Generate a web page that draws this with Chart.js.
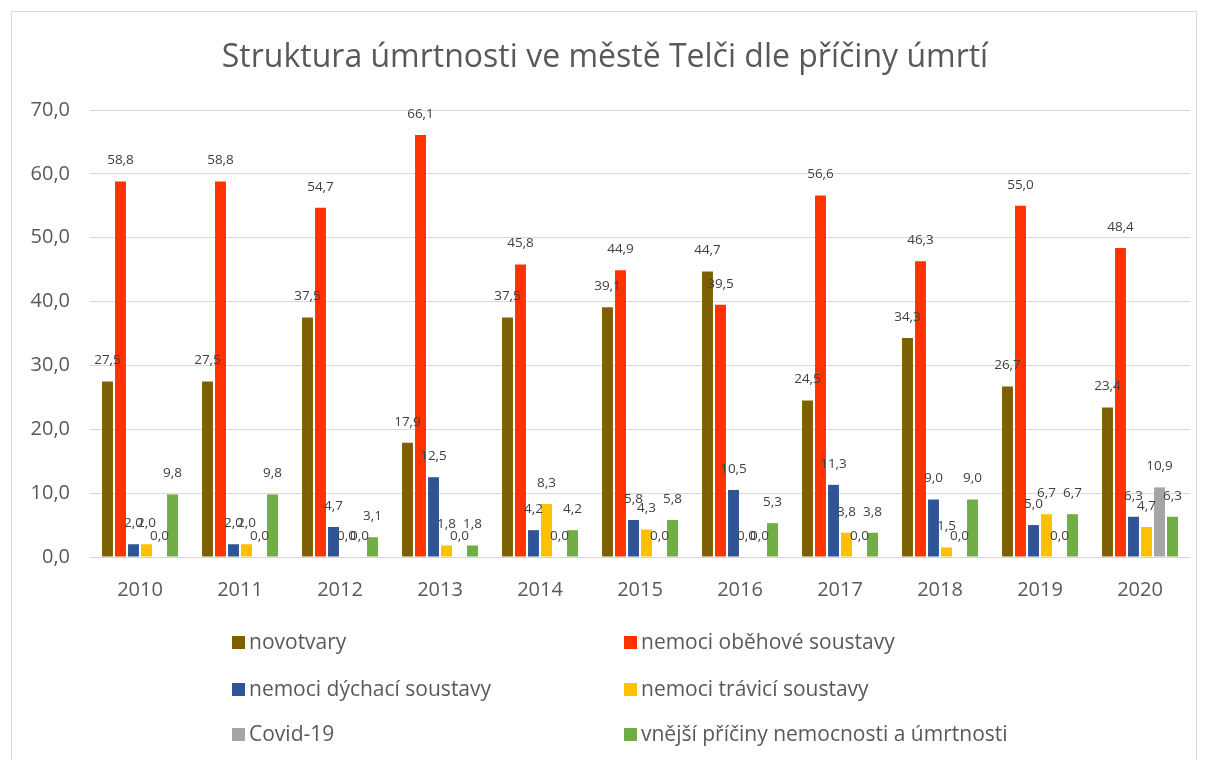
<!DOCTYPE html>
<html>
<head>
<meta charset="utf-8">
<script src="https://cdn.jsdelivr.net/npm/chart.js@4/dist/chart.umd.min.js"></script>
<style>
    html, body { margin: 0; padding: 0; background: #fff; }
    #frame {
        position: absolute; left: 11px; top: 11px; width: 1186px; height: 760px;
        border: 1px solid #d9d9d9; border-bottom: none; box-sizing: border-box;
    }
    #wrap { position: absolute; left: 0; top: 0; width: 1205px; height: 610px; }
    #legend { position: absolute; left: 0; top: 0; width: 1205px; height: 760px; pointer-events: none; }
    .item {
        position: absolute; font-family: "Open Sans", sans-serif; font-size: 21px; color: #595959;
        white-space: nowrap; line-height: 24px;
    }
    .item span.box { display: inline-block; width: 13px; height: 13px; margin-right: 4px; vertical-align: 0px; }
</style>
</head>
<body>
<div id="frame"></div>
<div id="wrap"><canvas id="chart"></canvas></div>
<div id="legend"></div>
<script>
const years = ['2010', '2011', '2012', '2013', '2014', '2015', '2016', '2017', '2018', '2019', '2020'];
const novotvary = [27.5, 27.5, 37.5, 17.9, 37.5, 39.1, 44.7, 24.5, 34.3, 26.7, 23.4];
const obehove = [58.8, 58.8, 54.7, 66.1, 45.8, 44.9, 39.5, 56.6, 46.3, 55.0, 48.4];
const dychaci = [2.0, 2.0, 4.7, 12.5, 4.2, 5.8, 10.5, 11.3, 9.0, 5.0, 6.3];
const travici = [2.0, 2.0, 0.0, 1.8, 8.3, 4.3, 0.0, 3.8, 1.5, 6.7, 4.7];
const covid = [0.0, 0.0, 0.0, 0.0, 0.0, 0.0, 0.0, 0.0, 0.0, 0.0, 10.9];
const vnejsi = [9.8, 9.8, 3.1, 1.8, 4.2, 5.8, 5.3, 3.8, 9.0, 6.7, 6.3];

const seriesNames = ['novotvary', 'nemoci oběhové soustavy', 'nemoci dýchací soustavy',
    'nemoci trávicí soustavy', 'Covid-19', 'vnější příčiny nemocnosti a úmrtnosti'];
const seriesColors = ['#7f6000', '#ff3300', '#2f5597', '#ffc000', '#a5a5a5', '#70ad47'];
const seriesData = [novotvary, obehove, dychaci, travici, covid, vnejsi];

const fmt = v => v.toFixed(1).replace('.', ',');

// value labels above each bar
const valueLabels = {
    id: 'valueLabels',
    afterDatasetsDraw(chart) {
        const ctx = chart.ctx;
        ctx.save();
        ctx.font = '13.5px "Open Sans", sans-serif';
        ctx.fillStyle = '#404040';
        ctx.textAlign = 'center';
        ctx.textBaseline = 'middle';
        chart.data.datasets.forEach((ds, i) => {
            chart.getDatasetMeta(i).data.forEach((bar, j) => {
                ctx.fillText(fmt(ds.data[j]), bar.x, bar.y - 21);
            });
        });
        ctx.restore();
    }
};

const chart = new Chart(document.getElementById('chart').getContext('2d'), {
    type: 'bar',
    data: {
        labels: years,
        datasets: seriesNames.map((name, i) => ({
            label: name,
            data: seriesData[i],
            backgroundColor: seriesColors[i],
            barPercentage: 0.84,
            categoryPercentage: 0.78
        }))
    },
    options: {
        responsive: true,
        maintainAspectRatio: false,
        animation: false,
        layout: { padding: { left: 20, right: 15, top: 0, bottom: 0 } },
        plugins: {
            legend: { display: false },
            tooltip: { enabled: false },
            title: {
                display: true,
                text: 'Struktura úmrtnosti ve městě Telči dle příčiny úmrtí',
                color: '#595959',
                font: { family: '"Open Sans", sans-serif', size: 32, weight: 'normal', lineHeight: 1.2 },
                padding: { top: 39, bottom: 32.6 }
            }
        },
        scales: {
            x: {
                grid: { display: false },
                border: { display: false },
                ticks: { color: '#595959', font: { family: '"Open Sans", sans-serif', size: 20 }, padding: 13 },
                afterFit: s => { s.height = 53; }
            },
            y: {
                min: 0,
                max: 70,
                grid: { color: '#d9d9d9', drawTicks: false },
                border: { display: false },
                ticks: {
                    stepSize: 10,
                    color: '#595959',
                    font: { family: '"Open Sans", sans-serif', size: 20 },
                    padding: 20,
                    callback: v => fmt(v)
                },
                afterFit: s => { s.width = 70; }
            }
        }
    },
    plugins: [valueLabels]
});

// two-column legend below the chart
const legendPos = [[232, 641], [624, 641], [232, 688], [624, 688], [232, 733], [624, 733]];
const legendEl = document.getElementById('legend');
chart.data.datasets.forEach((ds, i) => {
    const div = document.createElement('div');
    div.className = 'item';
    div.style.left = legendPos[i][0] + 'px';
    div.style.top = (legendPos[i][1] - 12) + 'px';
    div.innerHTML = '<span class="box" style="background:' + ds.backgroundColor + '"></span>' + ds.label;
    legendEl.appendChild(div);
});
</script>
</body>
</html>
